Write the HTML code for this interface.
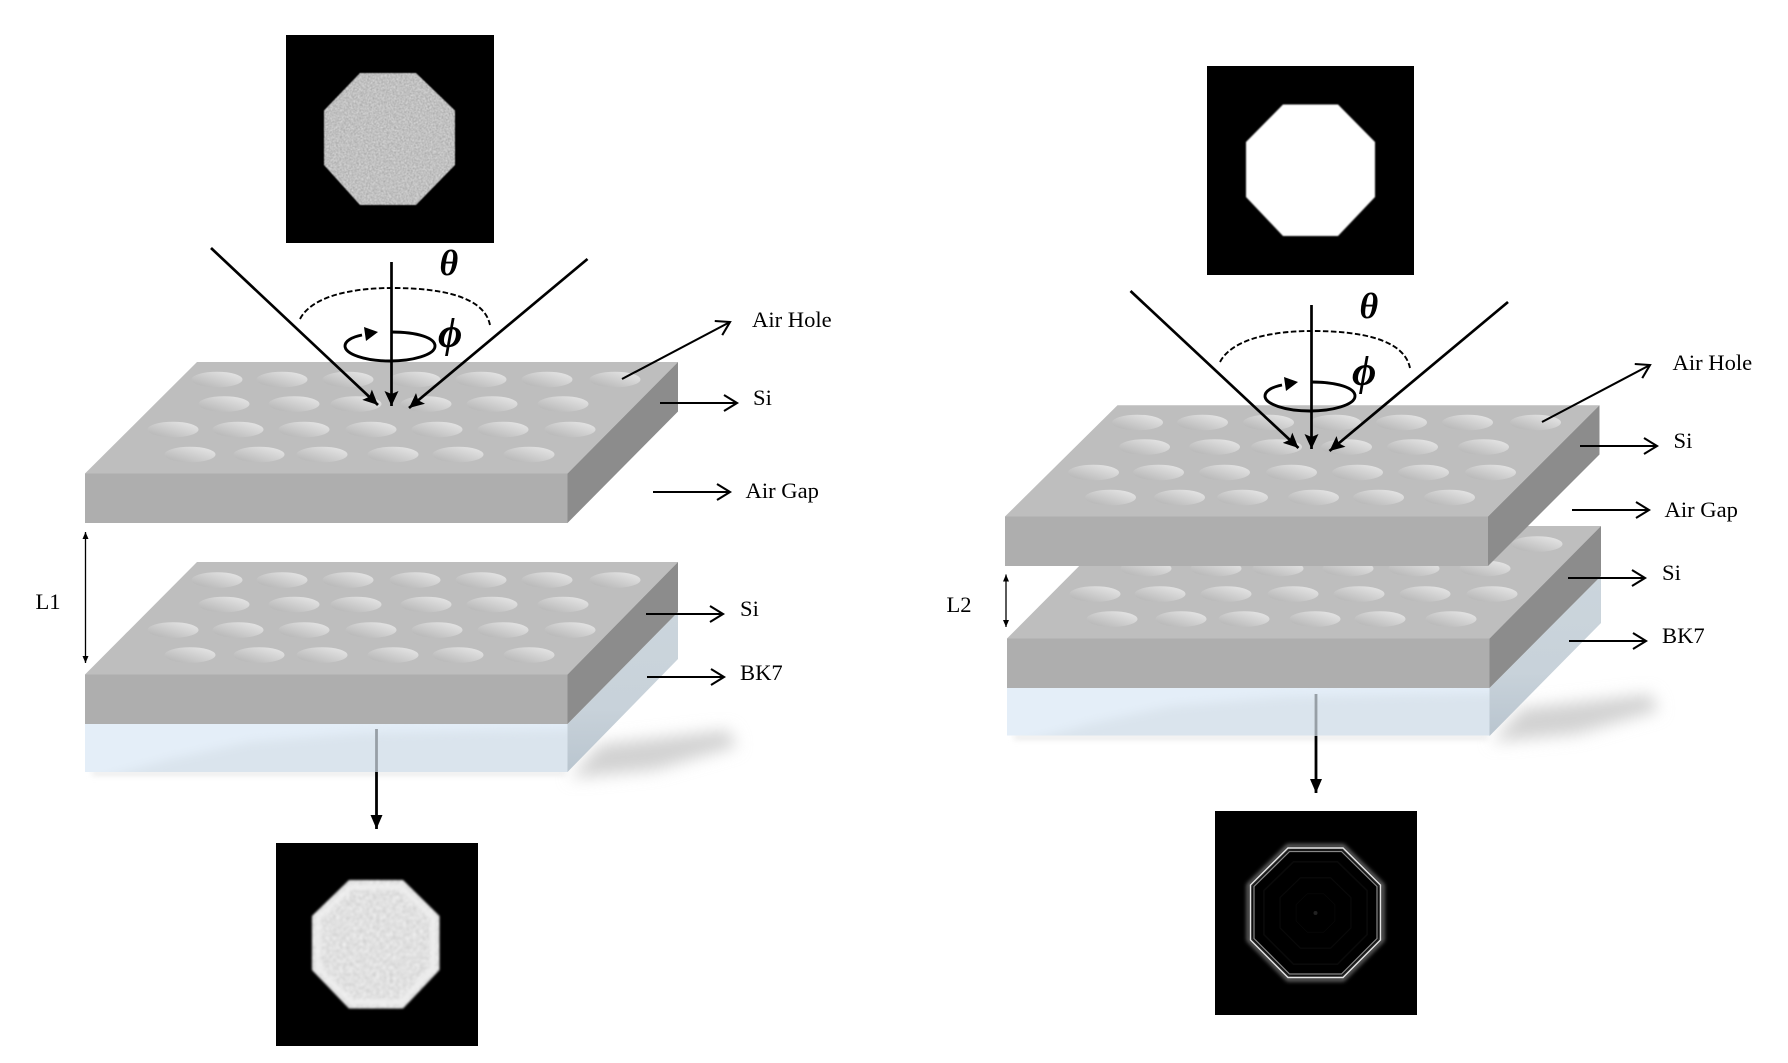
<!DOCTYPE html>
<html lang="en">
<head>
<meta charset="utf-8">
<title>Stacked photonic crystal slab diagram</title>
<style>
html,body{margin:0;padding:0;background:#fff;width:1788px;height:1063px;overflow:hidden}
svg{display:block}
text{font-family:"Liberation Serif",serif;font-size:22.6px;fill:#000}
.math{font-family:"Liberation Serif","DejaVu Serif",serif;font-weight:bold;font-style:italic;font-size:36px}
.phi{font-size:42px}
.ray{stroke:#000;stroke-width:2.7;fill:none}
.lab{stroke:#000;stroke-width:2.1;fill:none}
.top{fill:#bebebe}.front{fill:#aeaeae}.side{fill:#8c8c8c}
</style>
</head>
<body>
<svg id="scene" width="1788" height="1063" viewBox="0 0 1788 1063" xmlns="http://www.w3.org/2000/svg">
<defs>
<marker id="solid" markerUnits="userSpaceOnUse" markerWidth="18" markerHeight="16" refX="15" refY="7" orient="auto"><path d="M0,0 L15,7 L0,14 L3,7 Z" fill="#000"/></marker>
<marker id="solidDown" markerUnits="userSpaceOnUse" markerWidth="16" markerHeight="14" refX="14" refY="6" orient="auto"><path d="M0,0 L14,6 L0,12 Z" fill="#000"/></marker>
<marker id="open" markerUnits="userSpaceOnUse" markerWidth="18" markerHeight="20" refX="15" refY="9" orient="auto"><path d="M2,1 L15,9 L2,17" fill="none" stroke="#000" stroke-width="2.1"/></marker>
<marker id="tiny" markerUnits="userSpaceOnUse" markerWidth="8" markerHeight="8" refX="7" refY="3" orient="auto-start-reverse"><path d="M0,0 L7,3 L0,6 Z" fill="#000"/></marker>
<linearGradient id="holeGrad" x1="0" y1="1" x2="1" y2="0"><stop offset="0" stop-color="#b2b2b2"/><stop offset="1" stop-color="#eaeaea"/></linearGradient>
<linearGradient id="glassSide" x1="0" y1="0" x2="0" y2="1"><stop offset="0" stop-color="#cbd5dc"/><stop offset="0.6" stop-color="#c8d2da"/><stop offset="1" stop-color="#b9c5cf"/></linearGradient>
<clipPath id="clipGlassL"><rect x="85" y="724" width="482.5" height="48"/></clipPath>
<clipPath id="clipGlassR"><rect x="1007" y="688" width="482.5" height="47.5"/></clipPath>
<filter id="noiseA" x="-5%" y="-5%" width="110%" height="110%" color-interpolation-filters="sRGB">
<feTurbulence type="fractalNoise" baseFrequency="0.95" numOctaves="2" seed="4"/>
<feColorMatrix values="0.75 0 0 0 0.38 0.75 0 0 0 0.38 0.75 0 0 0 0.38 0 0 0 0 1"/>
<feComposite in2="SourceGraphic" operator="in"/>
<feGaussianBlur stdDeviation="0.4"/>
</filter>
<filter id="noiseB" x="-5%" y="-5%" width="110%" height="110%" color-interpolation-filters="sRGB">
<feTurbulence type="fractalNoise" baseFrequency="0.3" numOctaves="2" seed="9"/>
<feColorMatrix values="0.22 0 0 0 0.77 0.22 0 0 0 0.77 0.22 0 0 0 0.77 0 0 0 0 1"/>
<feComposite in2="SourceGraphic" operator="in"/>
<feGaussianBlur stdDeviation="1.1"/>
</filter>
<filter id="b08" x="-10%" y="-10%" width="120%" height="120%"><feGaussianBlur stdDeviation="0.8"/></filter>
<filter id="b2" x="-20%" y="-20%" width="140%" height="140%"><feGaussianBlur stdDeviation="2.2"/></filter>
<filter id="b3" x="-5%" y="-200%" width="110%" height="500%"><feGaussianBlur stdDeviation="3"/></filter>
<filter id="b5" x="-10%" y="-40%" width="120%" height="180%"><feGaussianBlur stdDeviation="5"/></filter>
<filter id="b9" x="-30%" y="-80%" width="160%" height="260%"><feGaussianBlur stdDeviation="8"/></filter>
</defs>

<!-- LEFT: lower slab -->
<g>
<polygon points="570,778 600,744 728,730 737,746 655,770" fill="#d2d2d2" filter="url(#b9)"/>
<rect x="92" y="770" width="474" height="6" fill="#ececec" filter="url(#b3)"/>
<rect x="85" y="724" width="482.5" height="48" fill="#e4eef8"/>
<polygon clip-path="url(#clipGlassL)" points="90,782 170,759 250,742 360,733 580,729 580,782" fill="#dae4ed" filter="url(#b5)"/>
<polygon points="567.5,724 678,612 678,659 567.5,772" fill="url(#glassSide)"/>
<polygon class="top" points="197,562 678,562 567.5,674.5 85,674.5"/>
<rect class="front" x="85" y="674.5" width="482.5" height="49.5"/>
<polygon class="side" points="678,562 678,612 567.5,724 567.5,674.5"/>
<g class="holes" data-dx="0" data-dy="200.5"></g>
</g>

<!-- LEFT: upper slab -->
<g>
<polygon class="top" points="197,362 678,362 567.5,473.5 85,473.5"/>
<rect class="front" x="85" y="473.5" width="482.5" height="49.5"/>
<polygon class="side" points="678,362 678,411.5 567.5,523 567.5,473.5"/>
<g class="holes" data-dx="0" data-dy="0"></g>
</g>

<!-- LEFT: images -->
<g>
<rect x="286" y="35" width="208" height="208" fill="#000"/>
<polygon points="360,73 416,73 455,110.5 455,165 416,205 360,205 324,165 324,110.5" fill="#bbb" filter="url(#noiseA)"/>
</g>
<g>
<rect x="276" y="843" width="202" height="203" fill="#000"/>
<polygon points="349,880 403,880 439.5,916 439.5,970 403,1008.5 349,1008.5 312,970 312,916" fill="#ddd" filter="url(#noiseB)"/>
<polygon points="351,887 401,887 433,918 433,968 401,1002 351,1002 318,968 318,918" fill="none" stroke="#f0f0f0" stroke-width="5" filter="url(#b2)"/>
</g>

<!-- LEFT: beams -->
<g>
<line class="ray" x1="211" y1="248" x2="378" y2="405" marker-end="url(#solid)"/>
<line class="ray" x1="587.5" y1="259" x2="409" y2="408" marker-end="url(#solid)"/>
<line class="ray" x1="391.5" y1="262" x2="391.5" y2="406" marker-end="url(#solid)"/>
<path d="M300,319 C312,296 352,288 392,288 C440,288 484,296 490,325" fill="none" stroke="#000" stroke-width="1.9" stroke-dasharray="5.5 2.5"/>
<path d="M391,332 C418,332 435,338 435,346 C435,355 412,361 390,361 C365,361 345,354 345,346 C345,341 352,337 362,335" fill="none" stroke="#000" stroke-width="2.9"/>
<polygon points="364,327 378,332 366,341" fill="#000"/>
<text class="math" x="439.5" y="275">θ</text>
<text class="math phi" x="438" y="347">ϕ</text>
<line x1="376.5" y1="729" x2="376.5" y2="772" stroke="#979fa6" stroke-width="2.8"/>
<line x1="376.5" y1="772" x2="376.5" y2="829" stroke="#000" stroke-width="2.8" marker-end="url(#solidDown)"/>
</g>

<!-- LEFT: labels -->
<g>
<line class="lab" x1="622" y1="379" x2="730" y2="322" marker-end="url(#open)"/>
<text x="752" y="327">Air Hole</text>
<line class="lab" x1="660" y1="403" x2="737" y2="403" marker-end="url(#open)"/>
<text x="753" y="405">Si</text>
<line class="lab" x1="653" y1="492" x2="730" y2="492" marker-end="url(#open)"/>
<text x="745.5" y="498">Air Gap</text>
<line x1="85.5" y1="532" x2="85.5" y2="663" stroke="#000" stroke-width="1.3" marker-start="url(#tiny)" marker-end="url(#tiny)"/>
<text x="35.5" y="609">L1</text>
<line class="lab" x1="646" y1="614" x2="723" y2="614" marker-end="url(#open)"/>
<text x="740" y="616">Si</text>
<line class="lab" x1="647" y1="677" x2="724" y2="677" marker-end="url(#open)"/>
<text x="740" y="680">BK7</text>
</g>

<!-- RIGHT: lower slab -->
<g>
<polygon points="1492,742 1522,708 1650,694 1659,710 1577,734" fill="#d2d2d2" filter="url(#b9)"/>
<rect x="1014" y="734" width="474" height="6" fill="#ececec" filter="url(#b3)"/>
<rect x="1007" y="688" width="482.5" height="47.5" fill="#e4eef8"/>
<polygon clip-path="url(#clipGlassR)" points="1012,746 1092,723 1172,706 1282,697 1502,693 1502,746" fill="#dae4ed" filter="url(#b5)"/>
<polygon points="1489.5,688 1601,576 1601,623 1489.5,736" fill="url(#glassSide)"/>
<polygon class="top" points="1119,526 1601,526 1489.5,638.5 1007,638.5"/>
<rect class="front" x="1007" y="638.5" width="482.5" height="49.5"/>
<polygon class="side" points="1601,526 1601,576 1489.5,688 1489.5,638.5"/>
<g class="holes" data-dx="922" data-dy="164.5"></g>
</g>

<!-- RIGHT: upper slab -->
<g>
<polygon class="top" points="1117.5,405.3 1599.5,405.3 1488,516.5 1005,516.5"/>
<rect class="front" x="1005" y="516.5" width="483" height="49.5"/>
<polygon class="side" points="1599.5,405.3 1599.5,454.5 1488,566 1488,516.5"/>
<g class="holes" data-dx="920.5" data-dy="43"></g>
</g>

<!-- RIGHT: images -->
<g>
<rect x="1207" y="66" width="207" height="209" fill="#000"/>
<polygon points="1283,104.5 1338,104.5 1375,142 1375,197 1338,236 1283,236 1246,197 1246,142" fill="#fff" filter="url(#b08)"/>
</g>
<g>
<rect x="1215" y="811" width="202" height="204" fill="#000"/>
<g fill="none" stroke="#0a0a0a" stroke-width="2">
<polygon transform="translate(1315.5 913) scale(0.8) translate(-1315.5 -913)" points="1288,849 1343,849 1380,885 1380,940 1343,977 1288,977 1251,940 1251,885"/>
<polygon transform="translate(1315.5 913) scale(0.55) translate(-1315.5 -913)" points="1288,849 1343,849 1380,885 1380,940 1343,977 1288,977 1251,940 1251,885"/>
<polygon transform="translate(1315.5 913) scale(0.3) translate(-1315.5 -913)" points="1288,849 1343,849 1380,885 1380,940 1343,977 1288,977 1251,940 1251,885"/>
<circle cx="1315.5" cy="913" r="2" fill="#222" stroke="none"/>
</g>
<polygon points="1288,846 1343,846 1382.5,885 1382.5,940 1343,979.5 1288,979.5 1248.5,940 1248.5,885" fill="none" stroke="#8a8a8a" stroke-width="3" filter="url(#b2)"/>
<polygon points="1288,848 1343,848 1380.5,885 1380.5,940 1343,977.5 1288,977.5 1250.5,940 1250.5,885" fill="none" stroke="#e6e6e6" stroke-width="1.4"/>
<polygon points="1289.5,851.5 1341.5,851.5 1377,886.5 1377,938.5 1341.5,974 1289.5,974 1254,938.5 1254,886.5" fill="none" stroke="#888" stroke-width="1.2"/>
</g>

<!-- RIGHT: beams -->
<g>
<line class="ray" x1="1130.5" y1="291" x2="1298.5" y2="448" marker-end="url(#solid)"/>
<line class="ray" x1="1508" y1="302" x2="1329.5" y2="451" marker-end="url(#solid)"/>
<line class="ray" x1="1311.5" y1="305" x2="1311.5" y2="449" marker-end="url(#solid)"/>
<path d="M1220,362 C1232,339 1272,331 1312,331 C1360,331 1404,339 1410,368" fill="none" stroke="#000" stroke-width="1.9" stroke-dasharray="5.5 2.5"/>
<path d="M1311,382 C1338,382 1355,388 1355,396 C1355,405 1332,411 1310,411 C1285,411 1265,404 1265,396 C1265,391 1272,387 1282,385" fill="none" stroke="#000" stroke-width="2.9"/>
<polygon points="1284,377 1298,382 1286,391" fill="#000"/>
<text class="math" x="1359.5" y="318">θ</text>
<text class="math phi" x="1352" y="385">ϕ</text>
<line x1="1316" y1="694" x2="1316" y2="736" stroke="#979fa6" stroke-width="2.8"/>
<line x1="1316" y1="736" x2="1316" y2="793" stroke="#000" stroke-width="2.8" marker-end="url(#solidDown)"/>
</g>

<!-- RIGHT: labels -->
<g>
<line class="lab" x1="1542" y1="422" x2="1650" y2="365" marker-end="url(#open)"/>
<text x="1672.5" y="370">Air Hole</text>
<line class="lab" x1="1580" y1="446" x2="1657" y2="446" marker-end="url(#open)"/>
<text x="1673.5" y="448">Si</text>
<line class="lab" x1="1572" y1="510" x2="1649" y2="510" marker-end="url(#open)"/>
<text x="1664.5" y="517">Air Gap</text>
<line x1="1006" y1="574.5" x2="1006" y2="627" stroke="#000" stroke-width="1.3" marker-start="url(#tiny)" marker-end="url(#tiny)"/>
<text x="946.5" y="612">L2</text>
<line class="lab" x1="1568" y1="578" x2="1645" y2="578" marker-end="url(#open)"/>
<text x="1662" y="580">Si</text>
<line class="lab" x1="1569" y1="641" x2="1646" y2="641" marker-end="url(#open)"/>
<text x="1662" y="643">BK7</text>
</g>
</svg>
<script>
var holeRowY = [379.5, 404, 429.5, 454.5];
var holeRowsX = [
  [217, 282, 348, 415, 481, 547, 615],
  [224, 294, 356, 426, 492, 563],
  [173, 238, 304, 371, 437, 503, 570],
  [190, 259, 322, 393, 458, 529]
];
var SVG_NS = 'http://www.w3.org/2000/svg';
document.querySelectorAll('.holes').forEach(function (group) {
  var dx = parseFloat(group.getAttribute('data-dx'));
  var dy = parseFloat(group.getAttribute('data-dy'));
  holeRowY.forEach(function (y, r) {
    holeRowsX[r].forEach(function (x) {
      var el = document.createElementNS(SVG_NS, 'ellipse');
      
      
      el.setAttribute('cx', x + dx);
      el.setAttribute('cy', y + dy);
      el.setAttribute('rx', 25.5);
      el.setAttribute('ry', 7.8);
      el.setAttribute('fill', 'url(#holeGrad)');
      group.appendChild(el);
    });
  });
});
</script>
</body>
</html>
